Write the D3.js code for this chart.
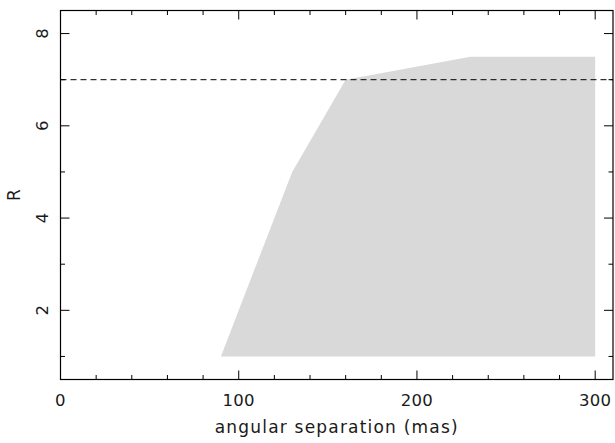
<!DOCTYPE html>
<html>
<head>
<meta charset="utf-8">
<script src="https://cdn.jsdelivr.net/npm/d3@7"></script>
<style>
  html, body { margin: 0; padding: 0; background: #fff; }
  text { font-family: "DejaVu Sans", sans-serif; fill: #1a1a1a; }
</style>
</head>
<body>
<div id="chart"></div>
<script>
// region of parameter space (angular separation vs R)
const sepValues = [90, 130, 160, 230, 300, 300];
const rValues   = [1, 5, 7, 7.5, 7.5, 1];
const limitR = 7;
const xTicks = [0, 100, 200, 300];
const yTicks = [2, 4, 6, 8];

const width = 615, height = 443;
const margin = { top: 10.5, right: 2, bottom: 63.5, left: 60.5 };

const svg = d3.select("#chart").append("svg")
  .attr("width", width)
  .attr("height", height);

const x = d3.scaleLinear().domain([0, 310]).range([margin.left, width - margin.right]);
const y = d3.scaleLinear().domain([0.5, 8.5]).range([height - margin.bottom, margin.top]);

// shaded region
const pts = sepValues.map((s, i) => [s, rValues[i]]);
svg.append("path")
  .attr("d", d3.line().x(d => x(d[0])).y(d => y(d[1]))(pts) + "Z")
  .style("fill", "#d9d9d9")
  .style("stroke", "none");

// dashed limit
svg.append("line")
  .attr("x1", x(0)).attr("x2", x(310))
  .attr("y1", y(limitR)).attr("y2", y(limitR))
  .style("stroke", "#000")
  .style("stroke-width", 1)
  .style("stroke-dasharray", "6,4");

// frame + inward ticks on all four sides
const x0 = x(0), x1 = x(310), y0 = y(0.5), y1 = y(8.5);
svg.append("rect")
  .attr("x", x0).attr("y", y1)
  .attr("width", x1 - x0).attr("height", y0 - y1)
  .style("fill", "none").style("stroke", "#000").style("stroke-width", 1.2);

const xMinor = d3.range(0, 311, 20);
const yMinor = d3.range(1, 9, 1);
const tk = svg.append("g").style("stroke", "#000").style("stroke-width", 1);

xMinor.forEach(v => {
  const len = v % 100 === 0 ? 9 : 4.5;
  tk.append("line").attr("x1", x(v)).attr("x2", x(v)).attr("y1", y0).attr("y2", y0 - len);
  tk.append("line").attr("x1", x(v)).attr("x2", x(v)).attr("y1", y1).attr("y2", y1 + len);
});
yMinor.forEach(v => {
  const len = v % 2 === 0 ? 9 : 4.5;
  tk.append("line").attr("y1", y(v)).attr("y2", y(v)).attr("x1", x0).attr("x2", x0 + len);
  tk.append("line").attr("y1", y(v)).attr("y2", y(v)).attr("x1", x1).attr("x2", x1 - len);
});

// tick labels
svg.selectAll(".xl").data(xTicks).enter().append("text")
  .attr("x", d => x(d))
  .attr("y", y0 + 26)
  .attr("text-anchor", "middle")
  .style("font-size", "16.5px")
  .style("letter-spacing", "0.3px")
  .text(d => d);

svg.selectAll(".yl").data(yTicks).enter().append("text")
  .attr("transform", d => `translate(${x0 - 13}, ${y(d)}) rotate(-90)`)
  .attr("text-anchor", "middle")
  .style("font-size", "16.5px")
  .text(d => d);

// axis titles
svg.append("text")
  .attr("x", (x0 + x1) / 2)
  .attr("y", 433)
  .attr("text-anchor", "middle")
  .style("font-size", "17px")
  .style("letter-spacing", "1.2px")
  .text("angular separation (mas)");

svg.append("text")
  .attr("transform", `translate(20, ${(y0 + y1) / 2}) rotate(-90)`)
  .attr("text-anchor", "middle")
  .style("font-size", "17px")
  .text("R");
</script>
</body>
</html>
